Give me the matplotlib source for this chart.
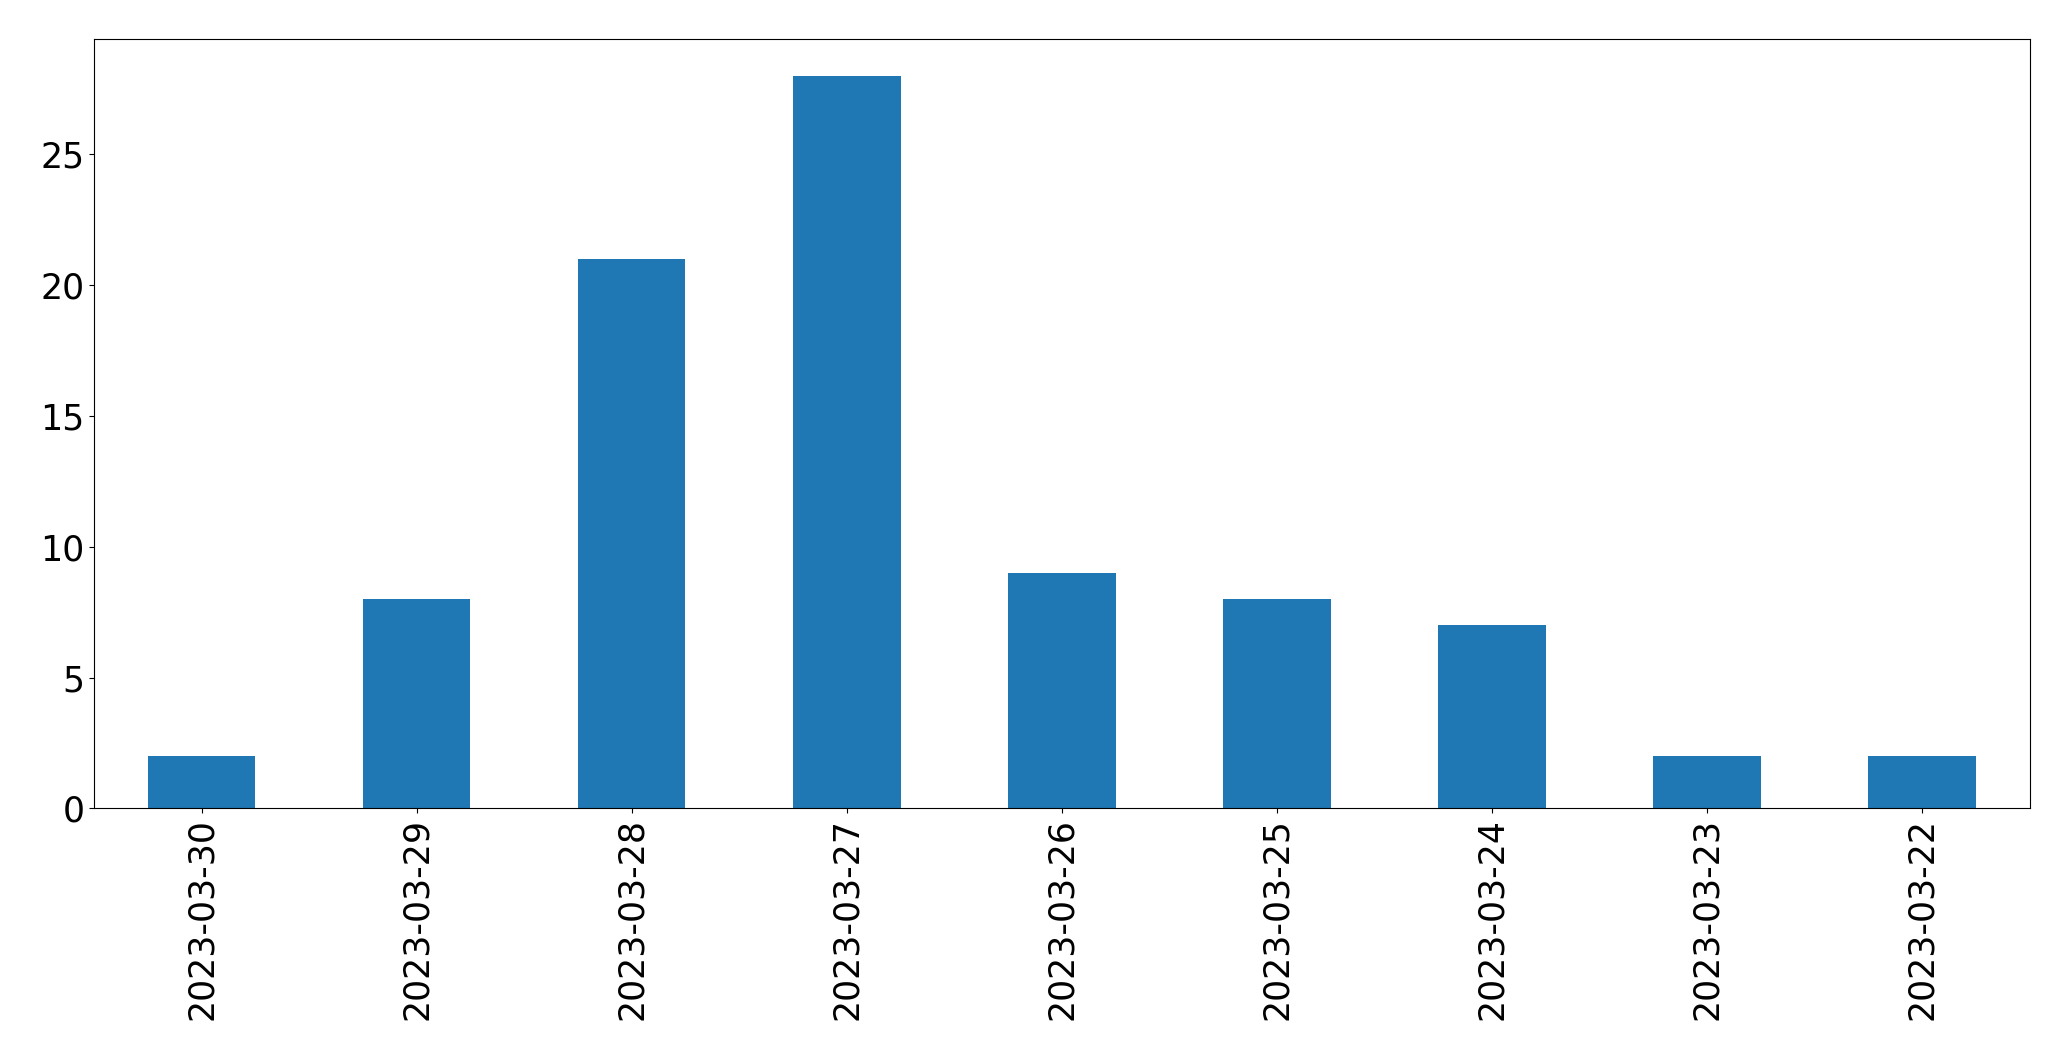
import pandas as pd
import matplotlib.pyplot as plt

dates = ['2023-03-30', '2023-03-29', '2023-03-28', '2023-03-27', '2023-03-26',
         '2023-03-25', '2023-03-24', '2023-03-23', '2023-03-22']
counts = [2, 8, 21, 28, 9, 8, 7, 2, 2]

s = pd.Series(counts, index=dates)

fig, ax = plt.subplots(figsize=(20.71, 10.61), dpi=100)
s.plot(kind='bar', ax=ax, fontsize=25)
plt.subplots_adjust(left=0.0454, right=0.980, top=0.963, bottom=0.238)
plt.savefig('out.png')
